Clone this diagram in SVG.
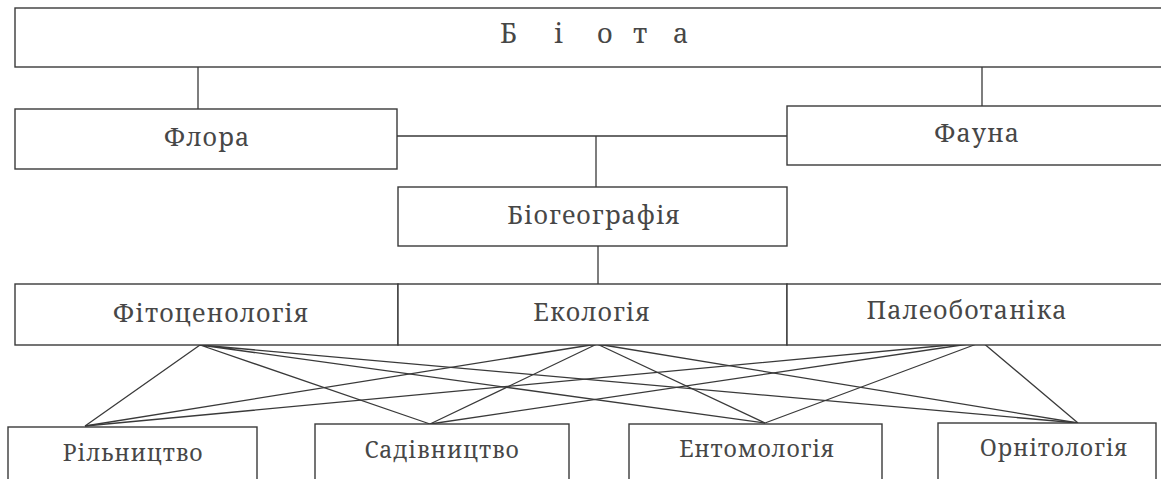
<svg xmlns="http://www.w3.org/2000/svg" width="1161" height="479" viewBox="0 0 1161 479">
<style>
.box{fill:#fff;stroke:#3a3a3a;stroke-width:1.4}
.t{font-family:"Noto Serif","DejaVu Serif",serif;font-size:25px;fill:#474747;text-anchor:middle;letter-spacing:1px}
.s{font-size:23px;letter-spacing:0.8px}
.c{stroke:#3a3a3a;stroke-width:1.3;fill:none}
</style>
<rect width="1161" height="479" fill="#fff"/>
<g id="connectors">
<path class="c" d="M198 67V109M982 65V106M397 136H787M596 136V187M598 246V284"/>
<path class="c" d="M200 345L85 426M200 345L430 424M200 345L765 423M200 345L1078 423"/>
<path class="c" d="M597 344L85 426M597 344L430 424M597 344L765 423M597 344L1078 423"/>
<path class="c" d="M982 342L85 426M982 342L430 424M982 342L765 423M982 342L1078 423"/>
</g>
<g id="biota"><rect class="box" x="15" y="8" width="1160" height="59"/><text class="t" x="500 554 597 633 673" y="43" style="text-anchor:start;letter-spacing:0;font-size:27px">Біота</text></g>
<g id="flora"><rect class="box" x="15" y="109" width="382" height="60"/><text class="t" x="207" y="146">Флора</text></g>
<g id="fauna"><rect class="box" x="787" y="106" width="390" height="59"/><text class="t" x="977" y="142">Фауна</text></g>
<g id="biogeo"><rect class="box" x="398" y="187" width="389" height="59"/><text class="t" x="594" y="224">Біогеографія</text></g>
<g id="fito"><rect class="box" x="15" y="284" width="383" height="61"/><text class="t" x="211" y="322">Фітоценологія</text></g>
<g id="eco"><rect class="box" x="398" y="284" width="389" height="61"/><text class="t" x="592" y="321">Екологія</text></g>
<g id="paleo"><rect class="box" x="787" y="284" width="390" height="61"/><text class="t" x="967" y="319">Палеоботаніка</text></g>
<g id="riln"><rect class="box" x="8" y="427" width="249" height="60"/><text class="t s" x="133" y="461">Рільництво</text></g>
<g id="sad"><rect class="box" x="315" y="424" width="254" height="62"/><text class="t s" x="442" y="458">Садівництво</text></g>
<g id="ento"><rect class="box" x="629" y="424" width="253" height="62"/><text class="t s" x="757" y="457">Ентомологія</text></g>
<g id="orni"><rect class="box" x="938" y="423" width="218" height="63"/><text class="t s" x="1054" y="456">Орнітологія</text></g>
</svg>
